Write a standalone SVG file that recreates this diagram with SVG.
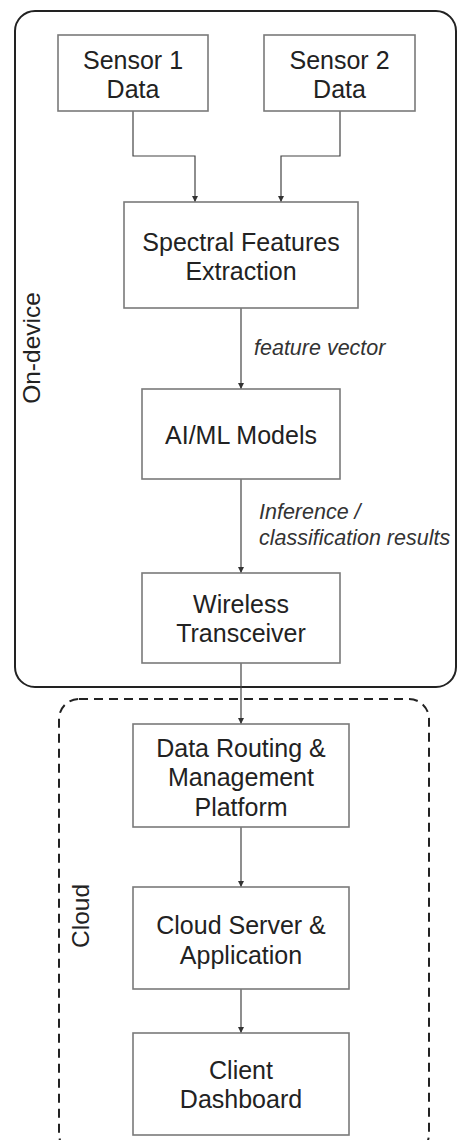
<svg xmlns="http://www.w3.org/2000/svg" width="457" height="1140" viewBox="0 0 457 1140">
<style>
.box{fill:#fff;stroke:#7a7a7a;stroke-width:1.6}
.t{font-family:"Liberation Sans",Arial,sans-serif;font-size:25px;fill:#222;text-anchor:middle}
.lbl{font-family:"Liberation Sans",Arial,sans-serif;font-size:21.5px;font-style:italic;fill:#333}
.grp{font-family:"Liberation Sans",Arial,sans-serif;font-size:24.5px;fill:#222;text-anchor:middle}
.con{fill:none;stroke:#444;stroke-width:1.2}
</style>
<defs>
<marker id="ah" viewBox="0 0 10 10" refX="10" refY="5" markerWidth="6" markerHeight="6" markerUnits="userSpaceOnUse" orient="auto">
<path d="M0,0 L10,5 L0,10 z" fill="#333"/>
</marker>
</defs>
<g id="on-device">
<rect x="15" y="11" width="441" height="676" rx="20" ry="20" fill="none" stroke="#222" stroke-width="2"/>
<text class="grp" transform="translate(40,348) rotate(-90)">On-device</text>
</g>
<g id="cloud">
<rect x="59" y="699" width="370" height="455" rx="20" ry="20" fill="none" stroke="#222" stroke-width="2" stroke-dasharray="9 6"/>
<text class="grp" transform="translate(89,916) rotate(-90)">Cloud</text>
</g>
<g id="connectors">
<path class="con" d="M133,111 V156 H195 V202" marker-end="url(#ah)"/>
<path class="con" d="M340,111 V156 H281 V202" marker-end="url(#ah)"/>
<path class="con" d="M241,308 V389" marker-end="url(#ah)"/>
<path class="con" d="M241,479 V573" marker-end="url(#ah)"/>
<path class="con" d="M241,663 V724" marker-end="url(#ah)"/>
<path class="con" d="M241,827 V887" marker-end="url(#ah)"/>
<path class="con" d="M241,989 V1033" marker-end="url(#ah)"/>
<text class="lbl" x="254" y="355">feature vector</text>
<text class="lbl" x="259" y="519">Inference /</text>
<text class="lbl" x="259" y="545">classification results</text>
</g>
<g id="sensor1">
<rect class="box" x="58" y="35" width="150" height="76"/>
<text class="t" x="133" y="69">Sensor 1</text>
<text class="t" x="133" y="98">Data</text>
</g>
<g id="sensor2">
<rect class="box" x="264" y="35" width="151" height="76"/>
<text class="t" x="339.5" y="69">Sensor 2</text>
<text class="t" x="339.5" y="98">Data</text>
</g>
<g id="spectral">
<rect class="box" x="124" y="202" width="234" height="106"/>
<text class="t" x="241" y="251">Spectral Features</text>
<text class="t" x="241" y="280">Extraction</text>
</g>
<g id="aiml">
<rect class="box" x="142" y="389" width="198" height="90"/>
<text class="t" x="241" y="444">AI/ML Models</text>
</g>
<g id="wireless">
<rect class="box" x="142" y="573" width="198" height="90"/>
<text class="t" x="241" y="613">Wireless</text>
<text class="t" x="241" y="642">Transceiver</text>
</g>
<g id="routing">
<rect class="box" x="133" y="724" width="216" height="103"/>
<text class="t" x="241" y="757">Data Routing &amp;</text>
<text class="t" x="241" y="786">Management</text>
<text class="t" x="241" y="816">Platform</text>
</g>
<g id="server">
<rect class="box" x="133" y="887" width="216" height="102"/>
<text class="t" x="241" y="934">Cloud Server &amp;</text>
<text class="t" x="241" y="964">Application</text>
</g>
<g id="dashboard">
<rect class="box" x="133" y="1033" width="216" height="102"/>
<text class="t" x="241" y="1079">Client</text>
<text class="t" x="241" y="1108">Dashboard</text>
</g>
</svg>
